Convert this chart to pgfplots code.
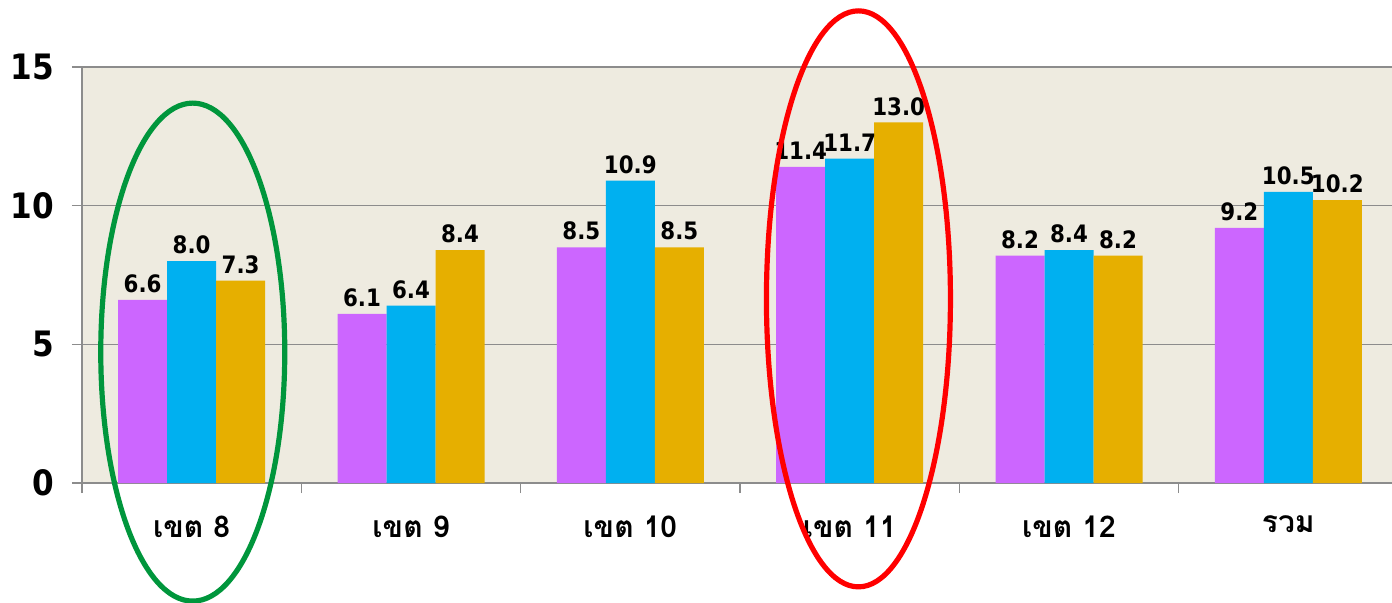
\documentclass[border=0pt]{standalone}
\usepackage{fontspec}
\setmainfont{DejaVu Sans}[FakeStretch=0.89]
\newfontfamily\thaifont[Script=Thai]{Loma}
\usepackage{pgfplots}
\pgfplotsset{compat=1.18}
\definecolor{cpurple}{HTML}{CC66FF}
\definecolor{ccyan}{HTML}{00B0F0}
\definecolor{cgold}{HTML}{E6AF00}
\definecolor{bgbeige}{HTML}{EEEBE0}
\definecolor{gridgray}{HTML}{8C8C8C}
\definecolor{cgreen}{HTML}{00963C}
\begin{document}
\begin{tikzpicture}
\useasboundingbox (-41pt,-59.5pt) rectangle (655pt,241.5pt);
\begin{axis}[
  at={(0pt,0pt)}, anchor=south west,
  scale only axis, width=658pt, height=208pt,
  xmin=-0.5, xmax=5.5, ymin=0, ymax=15,
  ytick={0,5,10,15},
  xtick={-0.5,0.5,...,5.5},
  x tick label as interval,
  xticklabels={เขต 8, เขต 9, เขต 10, เขต 11, เขต 12, รวม},
  ybar=0pt, bar width=24.5pt,
  axis x line*=bottom, axis y line*=left,
  axis line style={-, draw=gridgray, line width=0.8pt},
  ymajorgrids, grid style={draw=gridgray, line width=0.8pt},
  axis background/.style={fill=bgbeige},
  tick align=outside, major tick length=5pt,
  tick style={draw=gridgray, line width=0.8pt},
  /pgf/number format/assume math mode=true,
  yticklabel style={font=\bfseries\fontsize{17.5}{18}\selectfont, xshift=-5.5pt},
  xticklabel style={font=\thaifont\bfseries\fontsize{15}{16}\selectfont, yshift=-8pt},
  nodes near coords,
  every node near coord/.append style={font=\bfseries\fontsize{12}{12}\selectfont,
    /pgf/number format/.cd, fixed, fixed zerofill, precision=1, assume math mode=true},
  clip=false,
]
\addplot[fill=cpurple, draw=none] coordinates {(0,6.6) (1,6.1) (2,8.5) (3,11.4) (4,8.2) (5,9.2)};
\addplot[fill=ccyan, draw=none] coordinates {(0,8.0) (1,6.4) (2,10.9) (3,11.7) (4,8.4) (5,10.5)};
\addplot[fill=cgold, draw=none] coordinates {(0,7.3) (1,8.4) (2,8.5) (3,13.0) (4,8.2) (5,10.2)};
\coordinate (g) at (axis cs:0.005,4.72);
\coordinate (r) at (axis cs:3.04,6.64);
\end{axis}
\draw[cgreen, line width=2.6pt] (g) ellipse [x radius=46pt, y radius=124.5pt];
\draw[red, line width=2.6pt] (r) ellipse [x radius=46pt, y radius=144pt];
\end{tikzpicture}
\end{document}
